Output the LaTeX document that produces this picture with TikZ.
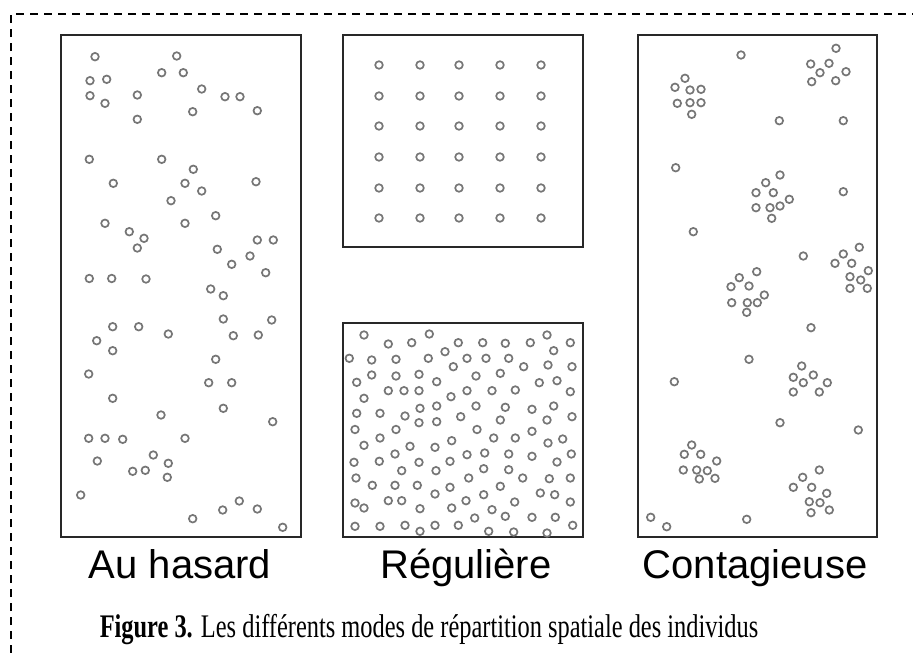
\documentclass[tikz,border=0pt]{standalone}
\usepackage{fontspec}
\newfontfamily\labfont{Liberation Sans}
\newfontfamily\capfont{Liberation Serif}
\definecolor{dotgray}{RGB}{118,118,118}
\definecolor{boxcol}{RGB}{40,40,40}
\begin{document}
\begin{tikzpicture}[x=1pt,y=-1pt,
  dot/.style={draw=dotgray,fill=white,line width=1.7pt},
  box/.style={draw=boxcol,line width=2.6pt},
  frame/.style={draw=black,line width=1.6pt,dash pattern=on 8pt off 6pt},
  lab/.style={font=\labfont\fontsize{40}{48}\selectfont,anchor=base,inner sep=0pt},
  captext/.style={font=\capfont\fontsize{24.4}{28}\selectfont,anchor=base,inner sep=0pt}]
\useasboundingbox (0,0) rectangle (913,653);
\fill[white] (0,0) rectangle (913,653);
% dashed frame
\draw[frame] (11,653) -- (11,14) -- (913,14);
% boxes
\draw[box] (61,35) rectangle (301,537);
\draw[box] (343,35) rectangle (583,247);
\draw[box] (343,323) rectangle (583,537);
\draw[box] (638,35) rectangle (877,537);
% Au hasard
\foreach \x/\y in {95/56.7, 176.7/56, 161.7/72.7, 183.3/72.7, 90/80.7, 106.7/79.3, 90/95.7, 105/103.3, 137.3/95, 137.3/119.3, 201.7/89, 225/96.7, 240/96.7, 192.7/111.7, 257.3/110.7, 89.3/159.3, 161.7/159.3, 193.3/169.3, 113.3/183.3, 185/183.3, 201.7/191, 256/181.7, 171/200.7, 215.7/215.7, 105/223.3, 129.3/231.7, 144/238.3, 137.3/248, 185/223.3, 257.3/240, 273.3/240, 217.3/249.3, 250/256, 231.7/264.3, 265.7/272.7, 89.3/278.5, 111.7/278.5, 146/279, 210.7/289, 223.3/295.7, 223.3/319, 271.7/320, 233.3/335.7, 258.3/335, 112.7/326.7, 138.7/326.7, 168.3/334, 96.7/340.7, 112.7/350.7, 215.7/359.3, 88.7/374, 208.7/382.7, 231.7/382.7, 112.7/398.3, 223.3/408.3, 161/415, 272.7/421.7, 88.7/438.3, 105/438.3, 122.7/439.3, 185/438.3, 153.3/455, 97.3/461, 168.3/463.3, 132.7/471.3, 145.3/470.3, 167.3/477.3, 80.7/495, 239.3/501, 222.7/510, 257.3/509, 192.7/518.7, 282.7/527.3}
  \draw[dot] (\x,\y) circle[radius=3.8pt];
% grid
\foreach \x in {379,420,459,500,541}
  \foreach \y in {65,96,126,157,188,218}
    \draw[dot] (\x,\y) circle[radius=3.8pt];
% bottom middle
\foreach \x/\y in {364/335, 429.3/334, 388.3/344, 411.7/342.7, 458.3/342.7, 349.3/358.3, 371.7/360, 396/359.3, 428.3/358.3, 445/351.7, 453.3/366.7, 371.7/375, 396/376, 419/374.3, 356.7/382.3, 436.7/381.7, 388.3/390.7, 404/390.7, 419/390.7, 451/396.7, 364/398.3, 420/408.3, 436.7/406, 356.7/413.3, 380/413.3, 405/416, 460.7/416.7, 419/422.7, 436.7/421.7, 355/429.5, 396/429.5, 482.7/342.7, 505.3/343.3, 530.3/342.7, 547/335, 570.3/342.7, 553.7/350.7, 467/358.3, 486/358.3, 508.7/358.3, 523.7/366.7, 548/365, 572/366.7, 476/376, 500.3/373.3, 539.3/382.7, 557/380.7, 467/390.7, 492/390.7, 515.3/390, 570.3/391.7, 476/406, 505.3/407.3, 532/409.3, 553.7/406, 572/416.7, 500.3/420, 547/420, 477/429.5, 380/438, 364/445.3, 410/446.3, 435/447.3, 451.7/440.7, 354/462.3, 379.3/461.3, 395/454, 419/462.3, 450/461.3, 401.7/470.7, 436/470.7, 356/478, 372.3/485.3, 395/485.3, 417.3/485.3, 450/487.3, 435/494, 388.3/500.7, 401.7/500.7, 355/503, 364/508, 420/508.7, 451.7/508, 355/526.3, 380/526.3, 405/525.3, 435/525.3, 458.3/525.3, 420/531.3, 532/431.3, 493.7/438, 515.3/438, 548/443, 562.7/439, 467/454.7, 484.7/453, 508.7/454, 532/456.3, 557/462, 571.3/454, 483.7/468.7, 508.7/469.7, 468.7/478, 522.7/478, 549.3/478.7, 570.3/478, 500.3/486.3, 540.3/493, 554.7/494.7, 483.7/494.7, 466/500.7, 514.7/502, 570.3/502, 492/509.7, 474.7/518, 505.3/516.3, 532/517.3, 555.3/517.3, 572.7/525.3, 488.7/531.3, 513.7/532, 547/533}
  \draw[dot] (\x,\y) circle[radius=3.8pt];
% Contagieuse
\foreach \x/\y in {741/55, 836/48.3, 810.7/64, 829/63.3, 820/72.7, 846/71.7, 811.7/81.7, 835.7/80.7, 685/78.3, 675/87.3, 690/90, 701/89.3, 677.3/103.3, 690/102.7, 701/102.7, 691.7/114.3, 779.3/120.7, 843.3/120.7, 675.7/167.7, 780/175, 765.7/182.7, 756/192.7, 773.3/192.7, 789.3/199.3, 756/207.7, 770/207.7, 780/206, 771.7/218.3, 843.3/191.7, 693.3/231.7, 803.3/256, 859.3/247.3, 843.3/254, 835/263.3, 851.7/263.3, 868.3/270.7, 850/276.7, 860.7/280, 850/288.3, 867.3/288.3, 756.7/271.7, 739.3/277.7, 731/286.7, 749/286, 764.3/295, 731.7/302.7, 747.3/302.7, 757.3/302.7, 746.7/312.3, 811/327.7, 749/359.3, 674.3/381.7, 801.7/366, 793.3/377.3, 813.3/375, 803.3/382.7, 827.3/382.7, 793.3/392, 819.3/392, 780/422.7, 858.3/430, 691.7/445, 684.3/454.3, 700.7/454.3, 716.7/461, 683.3/470, 696.7/470, 707.3/470.7, 699.3/479, 715/478.3, 819.3/470, 802.7/477.3, 793.3/487.3, 811.7/487.3, 826.7/493.3, 809.3/501.7, 820/502.7, 829.3/510, 811/512.7, 650.7/517.3, 666.7/526.7, 746.7/519.3}
  \draw[dot] (\x,\y) circle[radius=3.8pt];
% labels
\node[lab] (l1) at (180,578) {Au hasard};
\node[lab] (l2) at (466,578) {Régulière};
\node[lab] (l3) at (755,578) {Contagieuse};
\node[captext] (caption) at (429,637) {\scalebox{1}[1.35]{\textbf{Figure 3.} Les différents modes de répartition spatiale des individus}};
\end{tikzpicture}
\end{document}
